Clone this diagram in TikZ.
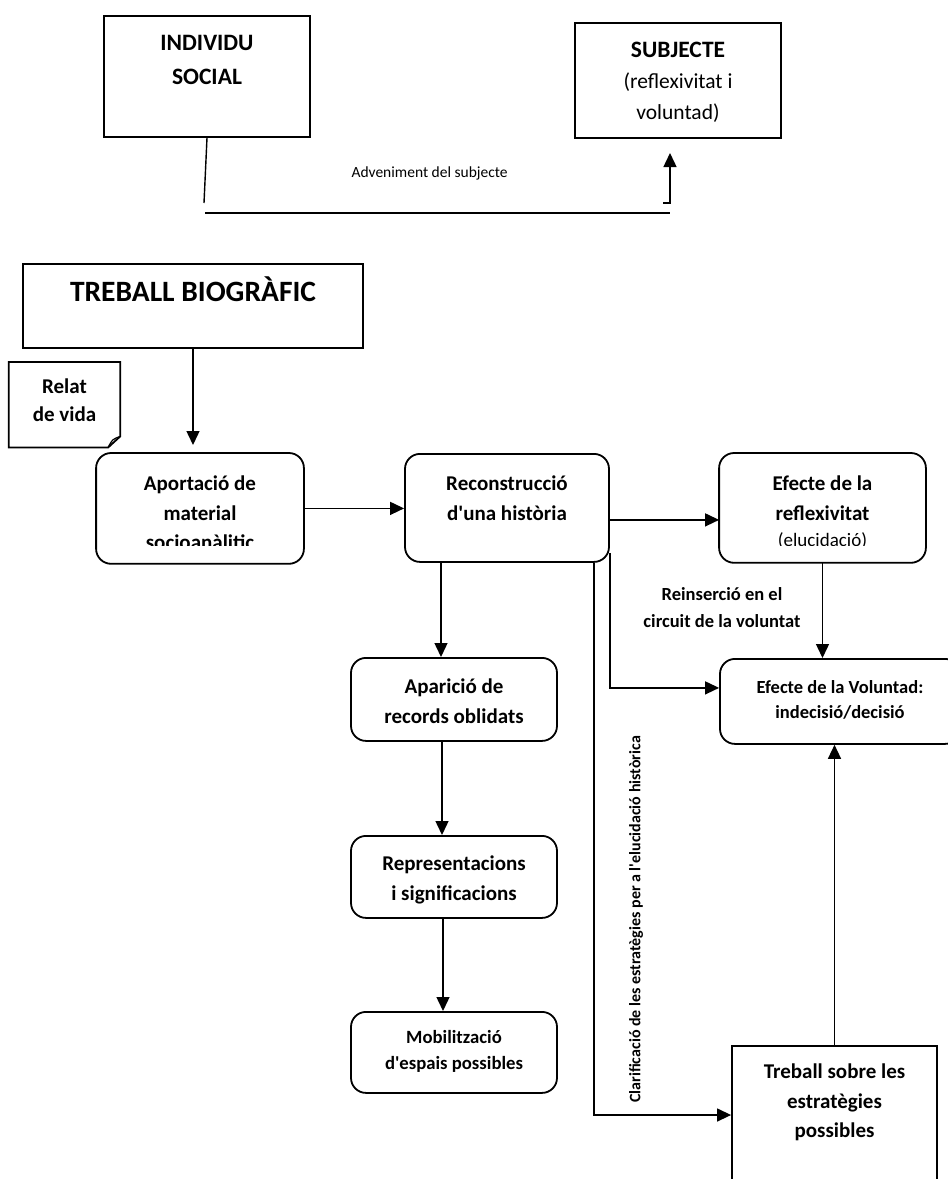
\documentclass[tikz,border=0pt]{standalone}
\usepackage{fontspec}
\setmainfont{Carlito}
\usetikzlibrary{arrows.meta,calc}

% text of a box, set from its top edge: width, height, first baseline, lines
\newcommand{\toptext}[4]{\parbox[c][#2pt][t]{#1pt}{\centering\rule{0pt}{#3pt}#4}}

\tikzset{
  sqbox/.style={draw, line width=1.8pt, inner sep=0pt, anchor=north},
  rndbox/.style={sqbox, rounded corners=15pt},
  conn/.style={line width=1.4pt},
  arr/.style={conn, -{Triangle[length=14pt,width=13pt]}},
  bodyfont/.style={font=\bfseries\fontsize{21}{29.5}\selectfont},
}

\begin{document}
\begin{tikzpicture}[x=1pt,y=-1pt]
  \useasboundingbox (0,0) rectangle (948,1179);

  % Define nodes
  \node[sqbox, font=\bfseries\fontsize{23.5}{34}\selectfont] (indiv) at (207,15) {\toptext{206}{121}{34.5}{INDIVIDU\\SOCIAL}};
  \node[sqbox, font=\fontsize{21.5}{31}\selectfont] (subj) at (678,22) {\toptext{206}{115}{34.6}{{\bfseries\fontsize{23.5}{31}\selectfont SUBJECTE}\\(reflexivitat i\\voluntad)}};
  \node[font=\fontsize{15.5}{18}\selectfont, anchor=west] (advlabel) at (348,173) {Adveniment del subjecte};

  \node[sqbox, font=\bfseries\fontsize{29.5}{34}\selectfont] (treb) at (193,263) {\toptext{340}{84}{37.5}{TREBALL BIOGRÀFIC}};
  \node[inner sep=0pt, anchor=north, font=\bfseries\fontsize{21}{28}\selectfont] (relat) at (64.5,362) {\toptext{111}{85}{31.7}{Relat\\de vida}};

  \begin{scope}
    \clip (0,440) rectangle (948,545.5);
    \node[rndbox, draw=none, bodyfont] (aport) at (200,453) {\toptext{206}{109}{36.7}{Aportació de\\material\\socioanàlitic}};
    \node[rndbox, draw=none, bodyfont] (reflex) at (822.5,453) {\toptext{205}{108}{36.7}{Efecte de la\\reflexivitat\\[-3pt]{\mdseries\fontsize{19}{27}\selectfont(elucidació)}}};
  \end{scope}
  \node[rndbox, bodyfont] (recon) at (507,453) {\toptext{204}{108}{36.7}{Reconstrucció\\d\textquotesingle una història}};
  \node[rndbox, font=\bfseries\fontsize{18.5}{24.5}\selectfont] (volun) at (840,658) {\toptext{240}{85}{34.9}{Efecte de la Voluntad:\\indecisió/decisió}};

  \node[rndbox, bodyfont] (apar) at (454,657) {\toptext{206}{83}{35.7}{Aparició de\\records oblidats}};
  \node[rndbox, bodyfont] (repr) at (454,835) {\toptext{206}{82}{34.7}{Representacions\\i significacions}};
  \node[rndbox, font=\bfseries\fontsize{18.7}{26}\selectfont] (mobil) at (454,1011) {\toptext{206}{81}{32}{Mobilització\\d\textquotesingle espais possibles}};
  \node[sqbox, bodyfont] (estr) at (834.5,1045) {\toptext{205}{170}{32.7}{Treball sobre les\\estratègies\\possibles}};

  \node[font=\bfseries\fontsize{18.5}{27}\selectfont, align=center] (reinlabel) at (722,607.5) {Reinserció en el\\circuit de la voluntat};
  \node[font=\bfseries\fontsize{16}{19}\selectfont, rotate=90, anchor=west, inner sep=0pt] (clarlabel) at (636,1103) {Clarificació de les estratègies per a l\textquotesingle elucidació històrica};

  % Box outlines
  \draw[line width=1.8pt, rounded corners=15pt] (aport.north west) rectangle (aport.south east);
  \draw[line width=1.8pt, rounded corners=15pt] (reflex.north west) rectangle (reflex.south east);
  \draw[line width=1.8pt] (relat.north west) -- (relat.north east) -- ($(relat.south east)+(0,-11)$) -- ($(relat.south east)+(-12,0)$) -- (relat.south west) -- cycle;
  \draw[line width=1.2pt] ($(relat.south east)+(-12,0)$) .. controls ($(relat.south east)+(-8,-8)$) .. ($(relat.south east)+(0,-11)$);

  % Connect the nodes
  \coordinate (advA) at (204,203);
  \coordinate (advB) at (205,213);
  \coordinate (advC) at (670,213);
  \coordinate (advD) at (663,203);
  \coordinate (advE) at (670,203);
  \coordinate (advF) at (670,153);
  \coordinate (aportin) at (193,445);
  \draw[conn] (indiv.south) -- (advA);
  \draw[conn, line width=1.8pt] (advB) -- (advC);
  \draw[arr] (advD) -- (advE) -- (advF);

  \draw[arr] (treb.south) -- (aportin);
  \draw[arr] (aport.east) -- (aport.east -| recon.west);
  \draw[arr] ([yshift=-12pt]recon.east) -- ([yshift=-12pt]recon.east -| reflex.west);
  \draw[arr] ([xshift=-66pt]recon.south) -- ([xshift=-66pt]recon.south |- apar.north);
  \draw[arr] ([xshift=-12pt]apar.south) -- ([xshift=-12pt]repr.north);
  \draw[arr] ([xshift=-11pt]repr.south) -- ([xshift=-11pt]mobil.north);
  \draw[arr] (reflex.south) -- (reflex.south |- volun.north);
  \draw[arr] (estr.north) -- (estr.north |- volun.south);
  \draw[arr] ([yshift=-45pt]recon.east) |- ([yshift=13.5pt]volun.west);
  \draw[arr] ([xshift=87pt]recon.south) |- ($(estr.north west)+(0,70)$);

\end{tikzpicture}
\end{document}
